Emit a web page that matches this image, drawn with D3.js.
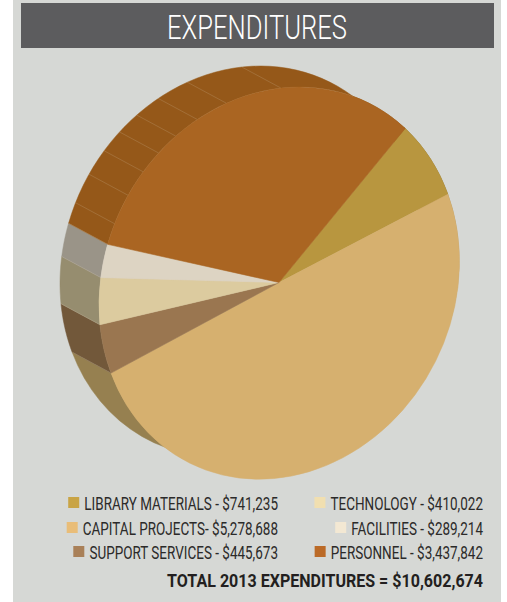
<!DOCTYPE html>
<html>
<head>
<meta charset="utf-8">
<script src="https://d3js.org/d3.v7.min.js"></script>
<style>
  html, body { margin: 0; padding: 0; background: #fff; }
  svg { display: block; }
  text { font-family: "Roboto", "Liberation Sans", sans-serif; }
</style>
</head>
<body>
<div id="chart_div"></div>
<script>
//-----------------------------DATA------------------------------//
const categories = ["LIBRARY MATERIALS", "CAPITAL PROJECTS", "SUPPORT SERVICES", "TECHNOLOGY", "FACILITIES", "PERSONNEL"];
const amounts = [741235, 5278688, 445673, 410022, 289214, 3437842];
const amountLabels = ["$741,235", "$5,278,688", "$445,673", "$410,022", "$289,214", "$3,437,842"];
const faceColors = ["#b8963f", "#d6b06f", "#9a7650", "#dccb9f", "#ddd4c3", "#aa6522"];
const wallColors = ["#8f7430", "#968050", "#72583a", "#968d6f", "#9a9488", "#955819"];
const legendColors = ["#c9a445", "#e9bd78", "#a98058", "#f1dfb0", "#f3e8d3", "#bb6a27"];
// where the facets of the personnel wall meet, degrees clockwise from 12 o'clock
const facetAngles = [294, 303, 311, 318, 325, 333, 343, 360.6];
const titleText = "EXPENDITURES";
const totalText = "TOTAL 2013 EXPENDITURES = $10,602,674";

//-----------------------------SVG-------------------------------//
const width = 507;
const height = 602;
const cx = 279, cy = 282.5;   // centre of the front face
const rx = 180, ry = 195.5;
const tilt = 6.5 * Math.PI / 180;  // the disc is skewed, not a plain upright ellipse
const depthX = -39, depthY = -21;  // how far the back face sits from the front
const startDeg = 44.5;

const svg = d3.select("#chart_div").append("svg")
  .attr("width", width)
  .attr("height", height);

svg.append("rect").attr("x", 13).attr("y", 0).attr("width", 488).attr("height", height).attr("fill", "#d6d8d5");
svg.append("rect").attr("x", 21).attr("y", 3).attr("width", 473).attr("height", 45).attr("fill", "#5c5c5e");

// condensed type is not installed, so text gets squeezed sideways to its width
const squeezedText = (parent, x, y, str, fontSize, fill, weight, anchor, fit) => {
  const t = parent.append("text")
    .attr("text-anchor", anchor)
    .attr("font-size", fontSize)
    .attr("font-weight", weight)
    .attr("fill", fill)
    .text(str);
  const raw = t.node().getComputedTextLength();
  const k = fit.width ? fit.width / raw : fit.factor;
  t.attr("transform", "translate(" + x + "," + y + ") scale(" + k + ",1)");
  return raw * k;
};

squeezedText(svg, 257, 39, titleText, 33, "#fff", 300, "middle", { width: 180 });

//----------------------------SCALES-----------------------------//
const rad = d => d * Math.PI / 180;
const color = d3.scaleOrdinal().domain(categories).range(faceColors);
const wallColor = d3.scaleOrdinal().domain(categories).range(wallColors);

const pie = d3.pie()
  .sort(null)
  .startAngle(rad(startDeg))
  .endAngle(rad(startDeg + 360));

const slices = pie(amounts).map((s, i) => ({ ...s, name: categories[i] }));

// point on the rim, a = radians clockwise from top
const rimX = (a, back) => cx + (back ? depthX : 0) + rx * Math.sin(a);
const rimY = (a, back) => cy + (back ? depthY : 0) - ry * Math.cos(a - tilt);

//----------------------------WALLS------------------------------//
const wallPath = d => {
  const p = d3.path();
  const steps = d3.range(0, 41).map(k => d.startAngle + (d.endAngle - d.startAngle) * k / 40);
  steps.forEach((a, k) => k ? p.lineTo(rimX(a, false), rimY(a, false)) : p.moveTo(rimX(a, false), rimY(a, false)));
  steps.reverse().forEach(a => p.lineTo(rimX(a, true), rimY(a, true)));
  p.closePath();
  return p.toString();
};

svg.append("g")
  .attr("class", "walls")
  .selectAll("path")
  .data(slices)
  .enter()
  .append("path")
  .attr("d", wallPath)
  .attr("fill", d => wallColor(d.name))
  .attr("stroke", d => wallColor(d.name))
  .attr("stroke-width", 0.5);

// light seams where walls meet
svg.append("g")
  .attr("class", "seams")
  .selectAll("line")
  .data(slices.slice(2).map(d => d.startAngle).concat(facetAngles.map(rad)))
  .enter()
  .append("line")
  .attr("x1", a => rimX(a, false))
  .attr("y1", a => rimY(a, false))
  .attr("x2", a => rimX(a, true))
  .attr("y2", a => rimY(a, true))
  .attr("stroke", "#d8c8ae")
  .attr("stroke-opacity", 0.4)
  .attr("stroke-width", 0.5);

//----------------------------FACES------------------------------//
const arc = d3.arc().innerRadius(0).outerRadius(1);

svg.append("g")
  .attr("class", "faces")
  .attr("transform", "matrix(" + rx + "," + (-ry * Math.sin(tilt)) + ",0," + (ry * Math.cos(tilt)) + "," + cx + "," + cy + ")")
  .selectAll("path")
  .data(slices)
  .enter()
  .append("path")
  .attr("d", arc)
  .attr("fill", d => color(d.name))
  .attr("stroke", d => color(d.name))
  .attr("stroke-width", 0.003);

//----------------------------LEGEND-----------------------------//
const squeeze = 0.71;
const fontSize = 19;
const colEnds = [278, 483];
const rowYs = [510, 535, 559];
// placement in the picture: left column, then right column
const legendRows = [
  { i: 0, col: 0, row: 0, sep: " - " },
  { i: 1, col: 0, row: 1, sep: "- " },
  { i: 2, col: 0, row: 2, sep: " - " },
  { i: 3, col: 1, row: 0, sep: " - " },
  { i: 4, col: 1, row: 1, sep: " - " },
  { i: 5, col: 1, row: 2, sep: " - " }
];

const legend = svg.append("g").attr("class", "legend");

legendRows.forEach(r => {
  const w = squeezedText(legend, colEnds[r.col], rowYs[r.row], categories[r.i] + r.sep + amountLabels[r.i],
    fontSize, "#2b2a29", 400, "end", { factor: squeeze });
  legend.append("rect")
    .attr("x", colEnds[r.col] - w - 16)
    .attr("y", rowYs[r.row] - 13)
    .attr("width", 11)
    .attr("height", 11)
    .attr("fill", legendColors[r.i]);
});

squeezedText(svg, 483, 587, totalText, fontSize, "#231f20", 700, "end", { width: 316 });
</script>
</body>
</html>
